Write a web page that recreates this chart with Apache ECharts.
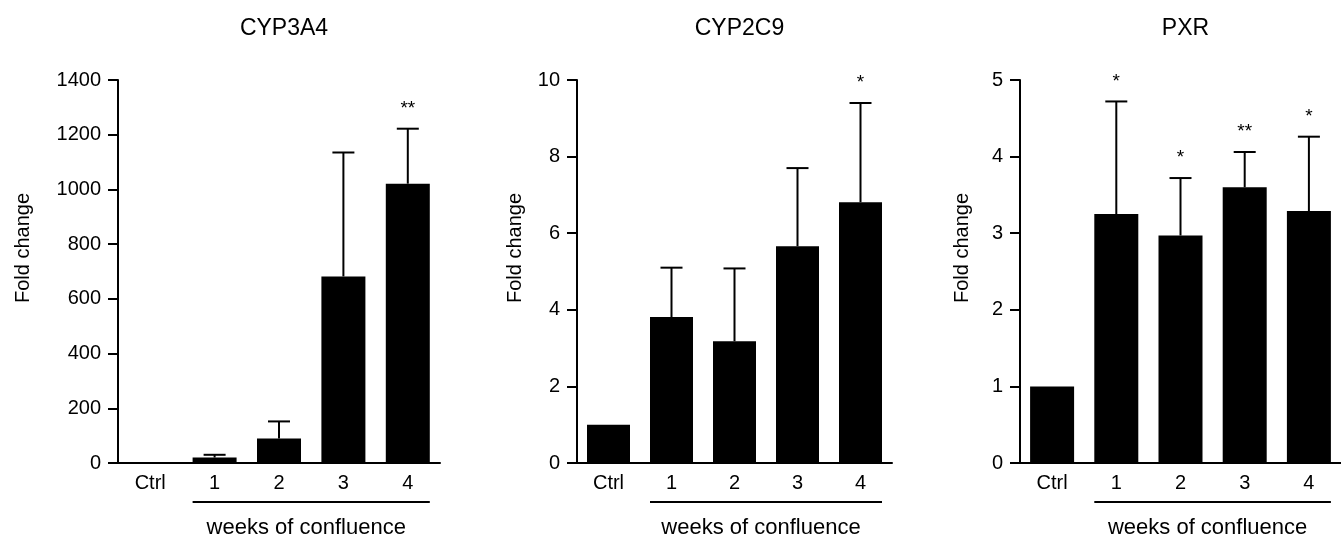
<!DOCTYPE html>
<html>
<head>
<meta charset="utf-8">
<script src="https://cdn.jsdelivr.net/npm/echarts@6/dist/echarts.min.js"></script>
<style>
  html, body { margin: 0; padding: 0; background: #fff; }
  #chart { width: 1341px; height: 540px; }
</style>
</head>
<body>
<div id="chart"></div>
<script>
// Categories shared by all three panels
const categories = ['Ctrl', '1', '2', '3', '4'];

// Panel titles
const titles = ['CYP3A4', 'CYP2C9', 'PXR'];

// CYP3A4: mean fold change, error (upper SD) and significance marks
const cyp3a4Mean = [1, 20, 90, 682, 1021];
const cyp3a4Err = [0, 10, 62, 453, 201];
const cyp3a4Sig = ['', '', '', '', '**'];

// CYP2C9
const cyp2c9Mean = [1, 3.81, 3.18, 5.66, 6.81];
const cyp2c9Err = [0, 1.29, 1.90, 2.04, 2.59];
const cyp2c9Sig = ['', '', '', '', '*'];

// PXR
const pxrMean = [1, 3.25, 2.97, 3.60, 3.29];
const pxrErr = [0, 1.47, 0.75, 0.46, 0.97];
const pxrSig = ['', '*', '*', '**', '*'];

// Y-axis ranges and tick steps
const yMax = [1400, 10, 5];
const yStep = [200, 2, 1];

const panels = [
  { mean: cyp3a4Mean, err: cyp3a4Err, sig: cyp3a4Sig },
  { mean: cyp2c9Mean, err: cyp2c9Err, sig: cyp2c9Sig },
  { mean: pxrMean, err: pxrErr, sig: pxrSig }
];

const FONT = '"Liberation Sans", Arial, Helvetica, sans-serif';
const grids = [
  { left: 118, top: 80, width: 322, height: 383 },
  { left: 577, top: 80, width: 315, height: 383 },
  { left: 1020, top: 80, width: 321, height: 383 }
];
const barWidths = [44, 43, 44];
const yNameX = [23, 515, 962];

const chart = echarts.init(document.getElementById('chart'), null, { renderer: 'canvas' });

// Upper error whisker with a short cap
function errorBarRenderer(params, api) {
  const base = api.coord([api.value(0), api.value(1)]);
  const top = api.coord([api.value(0), api.value(2)]);
  const children = [];
  if (api.value(2) > api.value(1)) {
    children.push({
      type: 'line',
      shape: { x1: base[0], y1: base[1], x2: top[0], y2: top[1] },
      style: { stroke: '#000', lineWidth: 2 }
    });
    children.push({
      type: 'line',
      shape: { x1: top[0] - 11, y1: top[1], x2: top[0] + 11, y2: top[1] },
      style: { stroke: '#000', lineWidth: 2 }
    });
  }
  return { type: 'group', children: children };
}

// Significance asterisks above the whisker
function sigRenderer(params, api) {
  const top = api.coord([api.value(0), api.value(1)]);
  return {
    type: 'text',
    style: {
      text: api.value(2),
      x: top[0],
      y: top[1] - 20,
      align: 'center',
      verticalAlign: 'middle',
      fill: '#000',
      fontSize: 19,
      fontFamily: FONT
    }
  };
}

const xAxes = [], yAxes = [], series = [], titleList = [];

panels.forEach((p, i) => {
  titleList.push({
    text: titles[i],
    left: grids[i].left + grids[i].width / 2,
    top: 12,
    textAlign: 'center',
    textStyle: { fontFamily: FONT, fontSize: 23, fontWeight: 'normal', color: '#000' }
  });
  xAxes.push({
    type: 'category',
    gridIndex: i,
    data: categories,
    boundaryGap: true,
    axisLine: { lineStyle: { color: '#000', width: 2 } },
    axisTick: { show: false },
    axisLabel: { color: '#000', fontSize: 20, fontFamily: FONT, margin: 10 }
  });
  yAxes.push({
    type: 'value',
    gridIndex: i,
    min: 0,
    max: yMax[i],
    interval: yStep[i],
    axisLine: { show: true, lineStyle: { color: '#000', width: 2 } },
    axisTick: { show: true, length: 10, lineStyle: { color: '#000', width: 2 } },
    axisLabel: {
      color: '#000', fontSize: 20, fontFamily: FONT, margin: 17,
      formatter: v => String(v)
    },
    splitLine: { show: false }
  });
  series.push({
    type: 'bar',
    xAxisIndex: i,
    yAxisIndex: i,
    data: p.mean,
    barWidth: barWidths[i],
    itemStyle: { color: '#000' },
    silent: true,
    z: 2
  });
  series.push({
    type: 'custom',
    xAxisIndex: i,
    yAxisIndex: i,
    renderItem: errorBarRenderer,
    data: p.mean.map((m, k) => [k, m, m + p.err[k]]),
    encode: { x: 0, y: [1, 2] },
    clip: false,
    silent: true,
    z: 3
  });
  series.push({
    type: 'custom',
    xAxisIndex: i,
    yAxisIndex: i,
    renderItem: sigRenderer,
    data: p.mean.map((m, k) => [k, m + p.err[k], p.sig[k]]).filter(d => d[2] !== ''),
    dimensions: ['x', 'y', 'mark'],
    encode: { x: 0, y: 1 },
    clip: false,
    silent: true,
    z: 4
  });
});

chart.setOption({
  animation: false,
  backgroundColor: '#fff',
  title: titleList,
  grid: grids,
  xAxis: xAxes,
  yAxis: yAxes,
  series: series
});

// Y-axis names, the "weeks of confluence" bracket and caption
const extras = [];
panels.forEach((p, i) => {
  extras.push({
    type: 'text',
    x: yNameX[i],
    y: 248,
    rotation: Math.PI / 2,
    style: {
      text: 'Fold change',
      fill: '#000',
      fontSize: 20,
      fontFamily: FONT,
      align: 'center',
      verticalAlign: 'middle'
    }
  });
  const first = chart.convertToPixel({ gridIndex: i }, [1, 0]);
  const last = chart.convertToPixel({ gridIndex: i }, [4, 0]);
  const x1 = first[0] - barWidths[i] / 2;
  const x2 = last[0] + barWidths[i] / 2;
  extras.push({
    type: 'line',
    shape: { x1: x1, y1: 502, x2: x2, y2: 502 },
    style: { stroke: '#000', lineWidth: 2 }
  });
  extras.push({
    type: 'text',
    x: (x1 + x2) / 2 - 5,
    y: 528,
    style: {
      text: 'weeks of confluence',
      fill: '#000',
      fontSize: 22,
      fontFamily: FONT,
      align: 'center',
      verticalAlign: 'middle'
    }
  });
});
chart.setOption({ graphic: extras });
</script>
</body>
</html>
